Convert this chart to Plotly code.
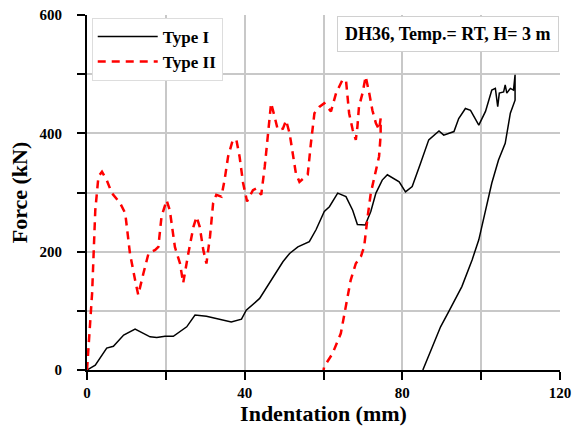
import plotly.graph_objects as go

type1_x = [0, 2.1, 5, 6.7, 9.3, 12.2, 16, 17.7, 19.8, 21.9, 25.3, 27.4, 30.3, 33.7, 36.6, 39.2, 40.4,
           43.8, 46.7, 49.7, 51.4, 53.5, 56.4, 58.1, 60.2, 61.5, 63.6, 65.7, 67.4, 68.6, 70.6, 72, 73.3,
           74.9, 76.2, 79.2, 80.8, 82.5, 84.6, 86.7, 89.3, 90.5, 93.1, 94.3, 96, 97.3, 99.4, 101.1, 102.7,
           103.6, 104.2, 104.6, 105.7, 106.1, 106.5, 107.4, 108.2, 108.6,
           108.6, 107.4, 106.1, 104.4, 102.7, 101.1, 99.4, 97.7, 95.1, 91.8, 89.7, 87.6, 85.5, 85.2]
type1_f = [0, 8, 37, 40, 59, 69, 56, 55, 57, 57, 73, 93, 91, 86, 81, 86, 101,
           121, 152, 183, 197, 208, 217, 237, 268, 276, 299, 293, 270, 246, 245, 268, 299,
           321, 330, 318, 301, 310, 349, 389, 404, 397, 403, 425, 442, 439, 414, 437, 473,
           476, 445, 468, 470, 482, 468, 476, 473, 499,
           456, 434, 383, 355, 316, 270, 220, 186, 141, 99, 73, 39, 6, 0]

type2_x = [0, 1.3, 2.1, 2.9, 3.8, 5, 6.3, 8.4, 9.7, 10.9, 12.2, 13, 14.3, 15.6, 17.3, 18.1, 18.9,
           20.2, 21, 22.3, 23.6, 24.4, 25.7, 27, 27.8, 28.6, 29.5, 30.3, 31.2, 32, 32.8, 34.1, 34.9,
           35.8, 37, 37.9, 38.7, 39.6, 40.6, 42.1, 43, 44.2, 45.1, 45.9, 46.7, 47.6, 48.4, 49.7, 50.5,
           51.4, 52.2, 53, 53.9, 56, 56.8, 57.7, 59, 60.2, 61.9, 63.2, 64.8, 65.7, 66.1, 66.5, 67.4,
           68.2, 68.6, 69, 69.9, 70.7, 71.6, 72.4, 73.3, 74.1, 74.5, 74.5,
           74.1, 73.3, 72, 71.2, 70.3, 69.5, 68.2, 66.9, 65.7, 64.4, 62.3, 60.2, 60]
type2_f = [0, 130, 270, 327, 335, 321, 299, 282, 265, 197, 152, 127, 163, 197, 203, 208, 259,
           287, 270, 208, 180, 147, 197, 242, 259, 242, 203, 180, 225, 282, 296, 293, 321,
           361, 389, 389, 361, 316, 285, 304, 307, 296, 344, 400, 451, 428, 406, 408, 422,
           400, 366, 332, 318, 330, 383, 434, 445, 451, 437, 468, 490, 490, 462, 434, 406,
           389, 411, 445, 468, 496, 468, 439, 417, 406, 425, 397,
           361, 338, 299, 259, 208, 192, 180, 152, 107, 62, 28, 6, 0]

x_ticks = [0, 20, 40, 60, 80, 100, 120]
x_labels = ["0", "", "40", "", "80", "", "120"]
y_ticks = [0, 100, 200, 300, 400, 500, 600]
y_labels = ["0", "", "200", "", "400", "", "600"]

SERIF = "Liberation Serif"

fig = go.Figure()
fig.add_trace(go.Scatter(x=type1_x, y=type1_f, mode="lines", name="Type I",
                         line=dict(color="black", width=1.5)))
fig.add_trace(go.Scatter(x=type2_x, y=type2_f, mode="lines", name="Type II",
                         line=dict(color="#ff0000", width=2.5, dash="8px,6px")))

axis_common = dict(
    showline=True, linecolor="black", linewidth=2,
    ticks="outside", ticklen=8, tickwidth=2, tickcolor="black",
    showgrid=True, gridcolor="#c8c8c8", gridwidth=1.5,
    zeroline=False, tickmode="array",
    tickfont=dict(family=SERIF, size=15, color="black", weight="bold"),
)

fig.update_xaxes(range=[0, 120], tickvals=x_ticks, ticktext=x_labels,
                 title=dict(text="Indentation (mm)", standoff=2,
                            font=dict(family=SERIF, size=22, color="black", weight="bold")),
                 ticklabelstandoff=0, **axis_common)
fig.update_yaxes(range=[0, 600], tickvals=y_ticks, ticktext=y_labels,
                 title=dict(text="Force (kN)", standoff=6,
                            font=dict(family=SERIF, size=22, color="black", weight="bold")),
                 ticklabelstandoff=12, **axis_common)

fig.add_annotation(text="DH36, Temp.= RT, H= 3 m", xref="paper", yref="paper",
                   x=0.998, y=0.998, xanchor="right", yanchor="top", showarrow=False,
                   font=dict(family=SERIF, size=18, color="black", weight="bold"),
                   bgcolor="white", bordercolor="#d0d0d0", borderwidth=1, borderpad=7)

fig.update_layout(
    width=574, height=441,
    margin=dict(l=87, r=14, t=15, b=71, autoexpand=False),
    paper_bgcolor="white", plot_bgcolor="white",
    legend=dict(x=0.01, y=0.992, xanchor="left", yanchor="top",
                bgcolor="white", bordercolor="#dddddd", borderwidth=1,
                font=dict(family=SERIF, size=17, color="black", weight="bold"),
                itemwidth=60, tracegroupgap=0),
)

fig.write_html("out.html", config={"displayModeBar": False},
               post_script="document.body.style.margin='0';document.body.style.overflow='hidden';")
